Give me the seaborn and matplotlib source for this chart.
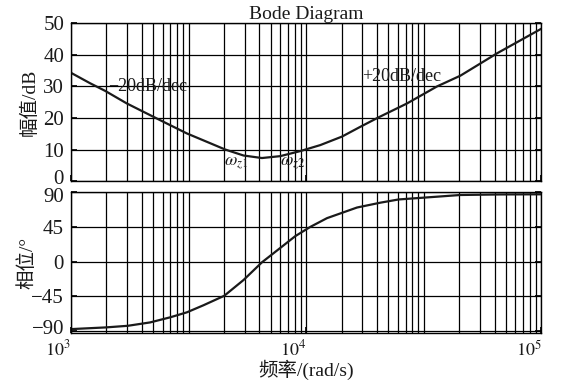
import numpy as np
import pandas as pd
import matplotlib
matplotlib.use("Agg")
import matplotlib.pyplot as plt
import matplotlib.ticker as mticker
import matplotlib.transforms as mtransforms
import seaborn as sns

# ---- data ----
mag_freq = [1000, 1205, 1395, 1726, 2392, 3107, 3904, 4522, 5411, 6480, 7752,
            9430, 11470, 14190, 16980, 20310, 26820, 35990, 45220, 64780, 100000]
mag_db = [34.3, 31.0, 28.6, 24.6, 19.3, 15.1, 12.0, 10.0, 8.1, 7.3, 7.9,
          9.5, 11.4, 14.1, 17.2, 20.2, 24.6, 30.0, 33.4, 40.5, 48.3]

phase_freq = [1000, 1405, 1743, 2169, 2638, 3107, 3656, 4480, 5411, 6480, 7623,
              8980, 10400, 12250, 16430, 20650, 24710, 35990, 45220, 66920, 100000]
phase_deg = [-87.8, -85.6, -83.5, -79.1, -72.5, -66.0, -56.8, -44.5, -24.0, -1.0, 15.9,
             33.0, 45.0, 56.4, 70.2, 76.5, 80.7, 84.3, 86.5, 87.2, 87.4]

mag_ticks = [0, 10, 20, 30, 40, 50]
phase_ticks = [-90, -45, 0, 45, 90]
x_ticks = [1e3, 1e4, 1e5]
x_tick_labels = [r"$10^3$", r"$10^4$", r"$10^5$"]

title_text = "Bode Diagram"
mag_label = "幅值/dB"
phase_label = "相位/°"
x_label = "频率/(rad/s)"
annotations = [
    ("\u221220dB/dec", 1440, 30.0),
    ("+20dB/dec", 17300, 33.0),
    (r"$\omega_{z1}$", 4450, 5.6),
    (r"$\omega_{z2}$", 7750, 5.6),
]

mag_df = pd.DataFrame({"freq": mag_freq, "mag": mag_db})
phase_df = pd.DataFrame({"freq": phase_freq, "phase": phase_deg})

sns.set_theme(style="white")
plt.rcParams["font.family"] = ["Liberation Serif", "Noto Sans CJK SC"]
plt.rcParams["mathtext.fontset"] = "stix"
plt.rcParams["axes.unicode_minus"] = True

TXT = "#1a1a1a"

fig = plt.figure(figsize=(5.64, 3.82), dpi=100)
ax1 = fig.add_axes([0.126, 0.526, 0.834, 0.413])
ax2 = fig.add_axes([0.126, 0.129, 0.834, 0.3676])

sns.lineplot(data=mag_df, x="freq", y="mag", ax=ax1, color=TXT, lw=1.6)
sns.lineplot(data=phase_df, x="freq", y="phase", ax=ax2, color=TXT, lw=1.6)

# vertical grid positions as drawn in the reference (styling only)
grid_pos = [10 ** (3 + 0.5 * j) * np.sqrt(m) for j in range(4) for m in range(1, 10)] + [1e5]

for ax in (ax1, ax2):
    ax.set_xscale("log")
    ax.set_xlim(1e3, 1e5)
    ax.xaxis.set_major_locator(mticker.FixedLocator(x_ticks))
    ax.xaxis.set_minor_locator(mticker.FixedLocator(grid_pos))
    ax.xaxis.set_minor_formatter(mticker.NullFormatter())
    ax.grid(True, which="both", axis="x", color="black", lw=0.9)
    ax.grid(True, which="major", axis="y", color="black", lw=0.9)
    ax.tick_params(axis="both", which="major", direction="in", length=4,
                   color="black", labelsize=15, labelcolor=TXT,
                   left=True, right=True, bottom=True, top=False, pad=5)
    ax.tick_params(axis="x", which="minor", length=0)
    for sp in ax.spines.values():
        sp.set_color("black")
        sp.set_linewidth(1.0)
    ax.set_xlabel("")
    ax.set_ylabel("")

ax1.set_ylim(0, 50)
ax1.set_yticks(mag_ticks)
ax1.tick_params(axis="x", labelbottom=False)

ax2.set_ylim(-92.5, 90)
ax2.set_yticks(phase_ticks)
ax2.set_xticks(x_ticks)
ax2.set_xticklabels(x_tick_labels)
ax2.tick_params(axis="x", labelsize=13, pad=5)
for lab in ax2.get_xticklabels():
    lab.set_ha("right")

# nudge touching tick labels apart slightly
def nudge(label, dy_pt):
    off = mtransforms.ScaledTranslation(0, dy_pt / 72, fig.dpi_scale_trans)
    label.set_transform(label.get_transform() + off)

nudge(ax1.get_yticklabels()[0], 3)     # "0" of the magnitude axes
nudge(ax2.get_yticklabels()[-1], -2)   # "90" of the phase axes
nudge(ax2.get_yticklabels()[0], 2.5)   # "-90" of the phase axes

ax1.set_title(title_text, fontsize=14, pad=2, color=TXT)
ax1.set_ylabel(mag_label, fontsize=14, color=TXT)
ax2.set_ylabel(phase_label, fontsize=14, color=TXT)
ax1.yaxis.set_label_coords(-0.068, 0.5)
ax2.yaxis.set_label_coords(-0.074, 0.5)
ax2.set_xlabel(x_label, fontsize=14, color=TXT, labelpad=0)

for text, fx, fy in annotations:
    ax1.text(fx, fy, text, fontsize=13, ha="left", va="center", color=TXT)

fig.savefig("out.png", dpi=100)
